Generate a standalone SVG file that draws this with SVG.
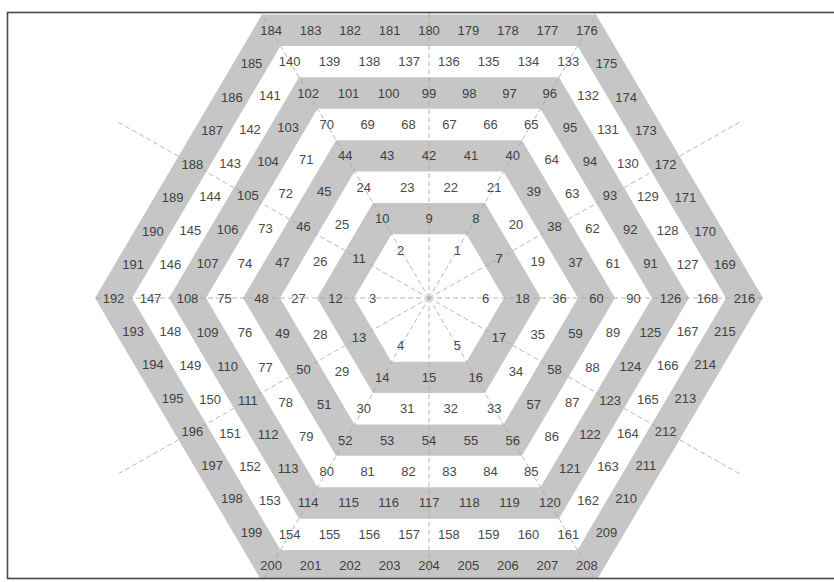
<svg xmlns="http://www.w3.org/2000/svg" width="834" height="582" viewBox="0 0 834 582">
<defs>
<clipPath id="frameClip"><rect x="8" y="13" width="826" height="565"/></clipPath>
<style>
.band{fill:#c6c6c6;fill-rule:evenodd;stroke:none}
.ray{stroke:#a4a4a4;stroke-width:0.8;stroke-dasharray:5 3;fill:none;vector-effect:non-scaling-stroke}
text{font-family:"Liberation Sans",Arial,sans-serif;font-size:13px;fill:#4a4a4a;text-anchor:middle;dominant-baseline:central}
.g text{fill:#404040}
</style>
</defs>
<rect x="0" y="0" width="834" height="582" fill="#ffffff"/>
<g clip-path="url(#frameClip)">
<g id="bands" transform="translate(429,298) scale(1,0.98)">
<path class="band" d="M112,0 L56,-96.99 L-56,-96.99 L-112,0 L-56,96.99 L56,96.99Z M75,0 L37.5,-64.95 L-37.5,-64.95 L-75,0 L-37.5,64.95 L37.5,64.95Z"/>
<path class="band" d="M186,0 L93,-161.08 L-93,-161.08 L-186,0 L-93,161.08 L93,161.08Z M149,0 L74.5,-129.04 L-74.5,-129.04 L-149,0 L-74.5,129.04 L74.5,129.04Z"/>
<path class="band" d="M260,0 L130,-225.17 L-130,-225.17 L-260,0 L-130,225.17 L130,225.17Z M223,0 L111.5,-193.12 L-111.5,-193.12 L-223,0 L-111.5,193.12 L111.5,193.12Z"/>
<path class="band" d="M334,0 L167,-289.25 L-167,-289.25 L-334,0 L-167,289.25 L167,289.25Z M297,0 L148.5,-257.21 L-148.5,-257.21 L-297,0 L-148.5,257.21 L148.5,257.21Z"/>
</g>
<g id="connectors" transform="translate(429,298) scale(1,0.98)">
<line class="ray" x1="0" y1="0" x2="334" y2="0"/>
<line class="ray" x1="0" y1="0" x2="167" y2="-289.25"/>
<line class="ray" x1="0" y1="0" x2="-167" y2="-289.25"/>
<line class="ray" x1="0" y1="0" x2="-334" y2="0"/>
<line class="ray" x1="0" y1="0" x2="-167" y2="289.25"/>
<line class="ray" x1="0" y1="0" x2="167" y2="289.25"/>
<line class="ray" x1="0" y1="0" x2="313.5" y2="-181"/>
<line class="ray" x1="0" y1="0" x2="0" y2="-362"/>
<line class="ray" x1="0" y1="0" x2="-313.5" y2="-181"/>
<line class="ray" x1="0" y1="0" x2="-313.5" y2="181"/>
<line class="ray" x1="0" y1="0" x2="0" y2="362"/>
<line class="ray" x1="0" y1="0" x2="313.5" y2="181"/>
</g>
<g id="labels" transform="translate(429,298)">
<g id="ring-1">
<text x="28.3" y="-47.9">1</text><text x="-28.3" y="-47.9">2</text><text x="-56.5" y="0">3</text><text x="-28.3" y="47.9">4</text><text x="28.3" y="47.9">5</text><text x="56.5" y="0">6</text>
</g>
<g id="ring-2" class="g">
<text x="70.1" y="-39.7">7</text><text x="46.8" y="-79.4">8</text><text x="0" y="-79.4">9</text><text x="-46.8" y="-79.4">10</text><text x="-70.1" y="-39.7">11</text><text x="-93.5" y="0">12</text><text x="-70.1" y="39.7">13</text><text x="-46.8" y="79.4">14</text><text x="0" y="79.4">15</text><text x="46.8" y="79.4">16</text><text x="70.1" y="39.7">17</text><text x="93.5" y="0">18</text>
</g>
<g id="ring-3">
<text x="108.8" y="-36.9">19</text><text x="87" y="-73.8">20</text><text x="65.3" y="-110.7">21</text><text x="21.8" y="-110.7">22</text><text x="-21.8" y="-110.7">23</text><text x="-65.3" y="-110.7">24</text><text x="-87" y="-73.8">25</text><text x="-108.8" y="-36.9">26</text><text x="-130.5" y="0">27</text><text x="-108.8" y="36.9">28</text><text x="-87" y="73.8">29</text><text x="-65.3" y="110.7">30</text><text x="-21.8" y="110.7">31</text><text x="21.8" y="110.7">32</text><text x="65.3" y="110.7">33</text><text x="87" y="73.8">34</text><text x="108.8" y="36.9">35</text><text x="130.5" y="0">36</text>
</g>
<g id="ring-4" class="g">
<text x="146.6" y="-35.6">37</text><text x="125.6" y="-71.1">38</text><text x="104.7" y="-106.6">39</text><text x="83.8" y="-142.2">40</text><text x="41.9" y="-142.2">41</text><text x="0" y="-142.2">42</text><text x="-41.9" y="-142.2">43</text><text x="-83.8" y="-142.2">44</text><text x="-104.7" y="-106.6">45</text><text x="-125.6" y="-71.1">46</text><text x="-146.6" y="-35.6">47</text><text x="-167.5" y="0">48</text><text x="-146.6" y="35.6">49</text><text x="-125.6" y="71.1">50</text><text x="-104.7" y="106.6">51</text><text x="-83.8" y="142.2">52</text><text x="-41.9" y="142.2">53</text><text x="0" y="142.2">54</text><text x="41.9" y="142.2">55</text><text x="83.8" y="142.2">56</text><text x="104.7" y="106.6">57</text><text x="125.6" y="71.1">58</text><text x="146.6" y="35.6">59</text><text x="167.5" y="0">60</text>
</g>
<g id="ring-5">
<text x="184.1" y="-34.7">61</text><text x="163.6" y="-69.4">62</text><text x="143.2" y="-104.2">63</text><text x="122.7" y="-138.9">64</text><text x="102.3" y="-173.6">65</text><text x="61.4" y="-173.6">66</text><text x="20.5" y="-173.6">67</text><text x="-20.5" y="-173.6">68</text><text x="-61.4" y="-173.6">69</text><text x="-102.3" y="-173.6">70</text><text x="-122.7" y="-138.9">71</text><text x="-143.2" y="-104.2">72</text><text x="-163.6" y="-69.4">73</text><text x="-184.1" y="-34.7">74</text><text x="-204.5" y="0">75</text><text x="-184.1" y="34.7">76</text><text x="-163.6" y="69.4">77</text><text x="-143.2" y="104.2">78</text><text x="-122.7" y="138.9">79</text><text x="-102.3" y="173.6">80</text><text x="-61.4" y="173.6">81</text><text x="-20.5" y="173.6">82</text><text x="20.5" y="173.6">83</text><text x="61.4" y="173.6">84</text><text x="102.3" y="173.6">85</text><text x="122.7" y="138.9">86</text><text x="143.2" y="104.2">87</text><text x="163.6" y="69.4">88</text><text x="184.1" y="34.7">89</text><text x="204.5" y="0">90</text>
</g>
<g id="ring-6" class="g">
<text x="221.4" y="-34.2">91</text><text x="201.3" y="-68.3">92</text><text x="181.1" y="-102.5">93</text><text x="161" y="-136.6">94</text><text x="140.9" y="-170.8">95</text><text x="120.8" y="-204.9">96</text><text x="80.5" y="-204.9">97</text><text x="40.3" y="-204.9">98</text><text x="0" y="-204.9">99</text><text x="-40.3" y="-204.9">100</text><text x="-80.5" y="-204.9">101</text><text x="-120.8" y="-204.9">102</text><text x="-140.9" y="-170.8">103</text><text x="-161" y="-136.6">104</text><text x="-181.1" y="-102.5">105</text><text x="-201.3" y="-68.3">106</text><text x="-221.4" y="-34.2">107</text><text x="-241.5" y="0">108</text><text x="-221.4" y="34.2">109</text><text x="-201.3" y="68.3">110</text><text x="-181.1" y="102.5">111</text><text x="-161" y="136.6">112</text><text x="-140.9" y="170.8">113</text><text x="-120.8" y="204.9">114</text><text x="-80.5" y="204.9">115</text><text x="-40.3" y="204.9">116</text><text x="0" y="204.9">117</text><text x="40.3" y="204.9">118</text><text x="80.5" y="204.9">119</text><text x="120.8" y="204.9">120</text><text x="140.9" y="170.8">121</text><text x="161" y="136.6">122</text><text x="181.1" y="102.5">123</text><text x="201.3" y="68.3">124</text><text x="221.4" y="34.2">125</text><text x="241.5" y="0">126</text>
</g>
<g id="ring-7">
<text x="258.6" y="-33.8">127</text><text x="238.7" y="-67.5">128</text><text x="218.8" y="-101.3">129</text><text x="198.9" y="-135">130</text><text x="179" y="-168.9">131</text><text x="159.1" y="-202.6">132</text><text x="139.3" y="-236.4">133</text><text x="99.5" y="-236.4">134</text><text x="59.7" y="-236.4">135</text><text x="19.9" y="-236.4">136</text><text x="-19.9" y="-236.4">137</text><text x="-59.7" y="-236.4">138</text><text x="-99.5" y="-236.4">139</text><text x="-139.3" y="-236.4">140</text><text x="-159.1" y="-202.6">141</text><text x="-179" y="-168.9">142</text><text x="-198.9" y="-135">143</text><text x="-218.8" y="-101.3">144</text><text x="-238.7" y="-67.5">145</text><text x="-258.6" y="-33.8">146</text><text x="-278.5" y="0">147</text><text x="-258.6" y="33.8">148</text><text x="-238.7" y="67.5">149</text><text x="-218.8" y="101.3">150</text><text x="-198.9" y="135">151</text><text x="-179" y="168.9">152</text><text x="-159.1" y="202.6">153</text><text x="-139.3" y="236.4">154</text><text x="-99.5" y="236.4">155</text><text x="-59.7" y="236.4">156</text><text x="-19.9" y="236.4">157</text><text x="19.9" y="236.4">158</text><text x="59.7" y="236.4">159</text><text x="99.5" y="236.4">160</text><text x="139.3" y="236.4">161</text><text x="159.1" y="202.6">162</text><text x="179" y="168.9">163</text><text x="198.9" y="135">164</text><text x="218.8" y="101.3">165</text><text x="238.7" y="67.5">166</text><text x="258.6" y="33.8">167</text><text x="278.5" y="0">168</text>
</g>
<g id="ring-8" class="g">
<text x="295.8" y="-33.5">169</text><text x="276.1" y="-66.9">170</text><text x="256.3" y="-100.5">171</text><text x="236.6" y="-133.9">172</text><text x="216.9" y="-167.4">173</text><text x="197.2" y="-200.8">174</text><text x="177.5" y="-234.3">175</text><text x="157.8" y="-267.7">176</text><text x="118.3" y="-267.7">177</text><text x="78.9" y="-267.7">178</text><text x="39.4" y="-267.7">179</text><text x="0" y="-267.7">180</text><text x="-39.4" y="-267.7">181</text><text x="-78.9" y="-267.7">182</text><text x="-118.3" y="-267.7">183</text><text x="-157.8" y="-267.7">184</text><text x="-177.5" y="-234.3">185</text><text x="-197.2" y="-200.8">186</text><text x="-216.9" y="-167.4">187</text><text x="-236.6" y="-133.9">188</text><text x="-256.3" y="-100.5">189</text><text x="-276.1" y="-66.9">190</text><text x="-295.8" y="-33.5">191</text><text x="-315.5" y="0">192</text><text x="-295.8" y="33.5">193</text><text x="-276.1" y="66.9">194</text><text x="-256.3" y="100.5">195</text><text x="-236.6" y="133.9">196</text><text x="-216.9" y="167.4">197</text><text x="-197.2" y="200.8">198</text><text x="-177.5" y="234.3">199</text><text x="-157.8" y="267.7">200</text><text x="-118.3" y="267.7">201</text><text x="-78.9" y="267.7">202</text><text x="-39.4" y="267.7">203</text><text x="0" y="267.7">204</text><text x="39.4" y="267.7">205</text><text x="78.9" y="267.7">206</text><text x="118.3" y="267.7">207</text><text x="157.8" y="267.7">208</text><text x="177.5" y="234.3">209</text><text x="197.2" y="200.8">210</text><text x="216.9" y="167.4">211</text><text x="236.6" y="133.9">212</text><text x="256.3" y="100.5">213</text><text x="276.1" y="66.9">214</text><text x="295.8" y="33.5">215</text><text x="315.5" y="0">216</text>
</g>
</g>
</g>
<rect id="frame" x="7.5" y="12.5" width="840" height="566" fill="none" stroke="#4a4a4a" stroke-width="1.6"/>
</svg>
